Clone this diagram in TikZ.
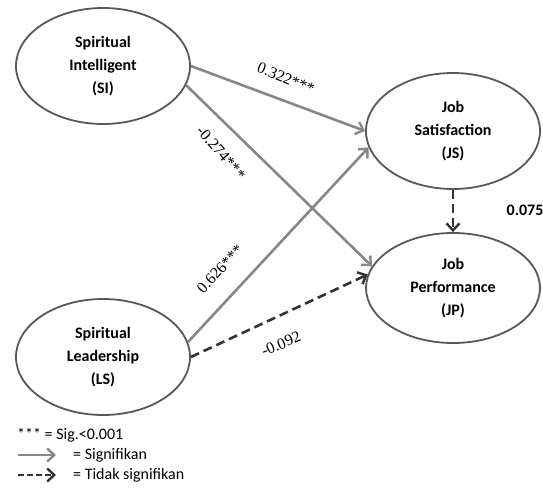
\documentclass[tikz,border=0pt]{standalone}
\usepackage{fontspec}
\setmainfont{Liberation Serif}
\newfontfamily\calfont{Carlito}
\usetikzlibrary{shapes.geometric,arrows.meta}

\definecolor{rimgray}{RGB}{88,88,88}
\definecolor{siggray}{RGB}{135,135,135}
\definecolor{nsdark}{RGB}{50,50,50}

\tikzstyle{construct} = [draw=rimgray, line width=1.8pt, ellipse, fill=white,
    minimum width=174pt, minimum height=116pt, inner sep=0pt, align=center,
    font=\calfont\bfseries\fontsize{16}{23}\selectfont]
\tikzstyle{sigpath} = [draw=siggray, line width=2.6pt,
    -{Straight Barb[length=7pt,width=13pt,line width=2.4pt]}]
\tikzstyle{nspath} = [draw=nsdark, line width=2.6pt, dash pattern=on 9pt off 5pt,
    -{Straight Barb[length=7pt,width=13pt,line width=2.4pt]}]
\tikzstyle{coef} = [inner sep=0pt, font=\fontsize{16}{18}\selectfont]
\tikzstyle{legendtext} = [inner sep=0pt, anchor=west, font=\calfont\fontsize{16}{18}\selectfont]

\begin{document}
\begin{tikzpicture}[x=1pt, y=-1pt]
\useasboundingbox (0,0) rectangle (543,487);

% constructs
\node [construct] (SI) at (103,66) {Spiritual\\Intelligent\\(SI)};
\node [construct] (LS) at (103,357) {Spiritual\\Leadership\\(LS)};
\node [construct] (JS) at (453,131) {Job\\Satisfaction\\(JS)};
\node [construct, minimum height=110pt] (JP) at (453,288) {Job\\Performance\\(JP)};

% paths
\draw [sigpath] (SI.east) -- (JS.west);
\draw [sigpath] (SI.-13) -- (JP.165);
\draw [sigpath] (LS.10) -- (JS.191);
\draw [nspath] (LS.east) -- (JP.171);
\draw [nspath] (JS.south) -- (JP.north);

% coefficients
\node [coef, rotate=-22] (c1) at (286,78) {0.322***};
\node [coef, rotate=-49] (c2) at (221,153) {-0.274***};
\node [coef, rotate=47] (c3) at (220,269) {0.626***};
\node [coef, rotate=23] (c4) at (281,344) {-0.092};
\node [coef, font=\calfont\bfseries\fontsize{16}{18}\selectfont] (c5) at (525,210) {0.075};

% legend
\node [legendtext] (l1) at (17,435) {*** = Sig.<0.001};
\coordinate (s0) at (18,455);
\coordinate (s1) at (56,455);
\coordinate (n0) at (18,475);
\coordinate (n1) at (56,475);
\draw [sigpath] (s0) -- (s1);
\draw [nspath, dash pattern=on 6pt off 3pt] (n0) -- (n1);
\node [legendtext] (l2) at (73,455) {= Signifikan};
\node [legendtext] (l3) at (73,475) {= Tidak signifikan};
\end{tikzpicture}
\end{document}
